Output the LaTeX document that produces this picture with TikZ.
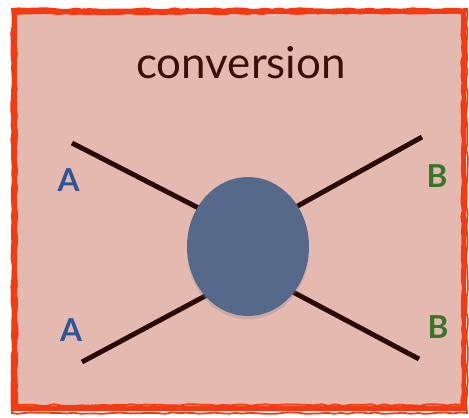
\documentclass[tikz,border=0pt]{standalone}
\usepackage{fontspec}
\setmainfont{Lato}
\usetikzlibrary{shadows}
\usetikzlibrary{shapes.geometric}
\usetikzlibrary{decorations.pathmorphing}
\definecolor{frame}{HTML}{F43A12}
\definecolor{paper}{HTML}{E4B9AF}
\definecolor{ink}{HTML}{3A100A}
\definecolor{leg}{HTML}{2A0A05}
\definecolor{blob}{HTML}{56698A}
\definecolor{partA}{HTML}{2E5597}
\definecolor{partB}{HTML}{3A7429}

\begin{document}
\begin{tikzpicture}[x=0.02cm, y=-0.02cm,
  leg/.style={draw=leg, line width=2.8pt},
  part/.style={font=\fontsize{18}{20}\selectfont\bfseries},
  rough/.style={draw=frame, line width=1pt, decorate,
    decoration={random steps, segment length=4pt, amplitude=0.5pt}}]
\useasboundingbox (0,0) rectangle (469,417);
\fill[white] (0,0) rectangle (469,417);
\draw[draw=frame, fill=paper, line width=2.8pt,
      drop shadow={shadow xshift=-2pt, shadow yshift=-2pt, opacity=0.15}]
  (14.5,11.5) rectangle (464,408.5);
\draw[rough] (12,9) -- (467,9) -- (467,413) -- (12,413) -- cycle;
\draw[rough] (16,14) -- (462,13) -- (462,405) -- (17,405) -- cycle;
\node[text=ink, font=\fontsize{25}{30}\selectfont] (title) at (241,63) {conversion};
% legs first, the blob sits on top of them
\coordinate (a1) at (72,143);
\coordinate (a2) at (82,362);
\coordinate (b1) at (422,137);
\coordinate (b2) at (419,359);
\coordinate (k1) at (220,219);
\coordinate (k2) at (220,288);
\coordinate (k3) at (276,218);
\coordinate (k4) at (276,283);
\draw[leg] (a1) -- (k1)
           (a2) -- (k2)
           (b1) -- (k3)
           (b2) -- (k4);
\node[ellipse, fill=blob, inner sep=0pt,
      minimum width=2.44cm, minimum height=2.78cm,
      drop shadow={shadow xshift=0pt, shadow yshift=-2pt, opacity=0.25}]
  (conv) at (248,246.5) {};
\node[part, text=partA] (inA1) at (68.5,180.5) {A};
\node[part, text=partA] (inA2) at (71,330.5) {A};
\node[part, text=partB] (outB1) at (437,176.5) {B};
\node[part, text=partB] (outB2) at (438,327.5) {B};
\end{tikzpicture}
\end{document}
